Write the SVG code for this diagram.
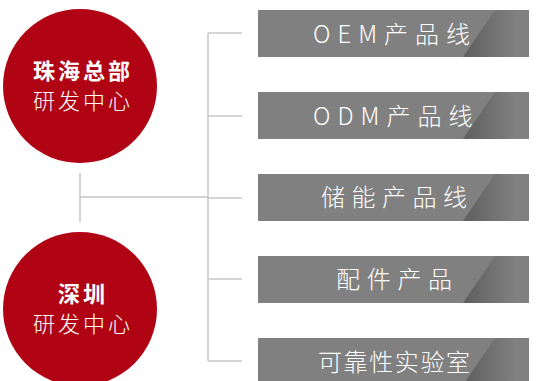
<svg xmlns="http://www.w3.org/2000/svg" width="537" height="381" viewBox="0 0 537 381">
<style>
.c{fill:#b00414}
.ct{fill:#fff;font-family:"Noto Sans CJK SC",sans-serif;font-size:22px;text-anchor:middle;letter-spacing:3px;font-weight:300}
.b{font-weight:bold}
.bar{fill:#808080}
.sh{fill:url(#g)}
.bt{fill:#fff;font-family:"Noto Sans CJK SC",sans-serif;font-size:24px;font-weight:300}
.ln{stroke:#c8c8c8;stroke-width:1.5;fill:none}
</style>
<defs>
<linearGradient id="g" gradientUnits="userSpaceOnUse" x1="463" y1="0" x2="515" y2="0">
<stop offset="0" stop-color="#5e5e5e"/>
<stop offset="1" stop-color="#808080"/>
</linearGradient>
</defs>
<g id="connectors">
<path class="ln" d="M80 173V222M80 197H208M208 33V361M208 33H242M208 116H242M208 198H242M208 279H242M208 361H242"/>
</g>
<g id="zhuhai">
<circle class="c" cx="80" cy="86" r="77"/>
<text class="ct b" x="83" y="79">珠海总部</text>
<text class="ct" x="83" y="109">研发中心</text>
</g>
<g id="shenzhen">
<circle class="c" cx="80" cy="309" r="77"/>
<text class="ct b" x="83" y="302">深圳</text>
<text class="ct" x="83" y="332">研发中心</text>
</g>
<g id="oem">
<rect class="bar" x="258" y="10" width="271" height="47"/>
<polygon class="sh" points="495,10 529,10 529,57 463,57"/>
<text class="bt" x="313" y="43" letter-spacing="7">OEM产品线</text>
</g>
<g id="odm">
<rect class="bar" x="258" y="92" width="271" height="47"/>
<polygon class="sh" points="495,92 529,92 529,139 463,139"/>
<text class="bt" x="313" y="125" letter-spacing="7">ODM产品线</text>
</g>
<g id="storage">
<rect class="bar" x="258" y="174" width="271" height="47"/>
<polygon class="sh" points="495,174 529,174 529,221 463,221"/>
<text class="bt" x="321" y="206" letter-spacing="6.5">储能产品线</text>
</g>
<g id="parts">
<rect class="bar" x="258" y="256" width="271" height="47"/>
<polygon class="sh" points="495,256 529,256 529,303 463,303"/>
<text class="bt" x="336" y="288" letter-spacing="6.7">配件产品</text>
</g>
<g id="lab">
<rect class="bar" x="258" y="338" width="271" height="47"/>
<polygon class="sh" points="495,338 529,338 529,385 463,385"/>
<text class="bt" x="318" y="371" letter-spacing="1.6">可靠性实验室</text>
</g>
</svg>
